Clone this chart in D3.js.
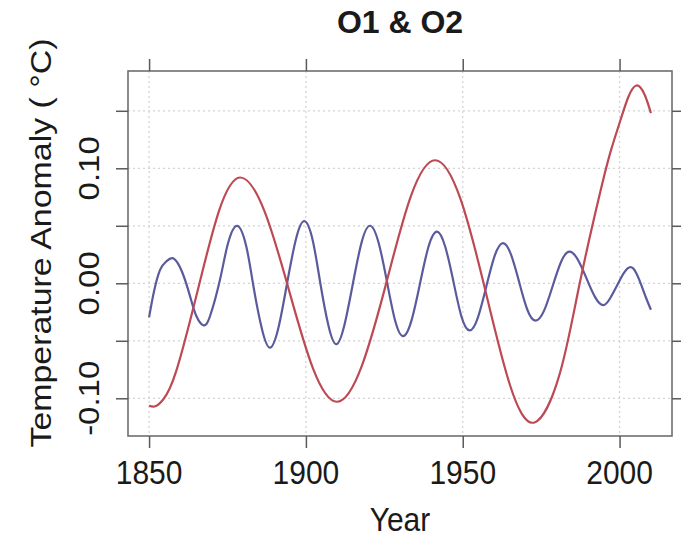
<!DOCTYPE html>
<html>
<head>
<meta charset="utf-8">
<script src="https://cdn.jsdelivr.net/npm/d3@7"></script>
<style>
  body { margin: 0; background: #fff; }
  text { font-family: "Liberation Sans", Arial, sans-serif; fill: #1a1a1a; }
</style>
</head>
<body>
<script>
'use strict';

// O1 (long oscillation, red)
const o1Years = [1850, 1852, 1854.5, 1858.7, 1865.8, 1872.3, 1879, 1886.75, 1894.5, 1902.25, 1910,
  1917.8, 1925.7, 1933.5, 1941.3, 1949.2, 1957.1, 1965, 1972.9, 1981, 1987.3,
  1993.9, 1997.3, 2000.3, 2002.8, 2005.4, 2008, 2010];
const o1Values = [-0.1065, -0.107, -0.101, -0.076, -0.003, 0.063, 0.092, 0.063, -0.005, -0.074, -0.103,
  -0.072, 0.001, 0.076, 0.107, 0.074, -0.005, -0.088, -0.121, -0.078, 0.000,
  0.080, 0.116, 0.142, 0.162, 0.172, 0.164, 0.148];

// O2 (short oscillation, blue)
const o2Years = [1850, 1851.5, 1853.5, 1855.5, 1857.7, 1860.5, 1863.1, 1865, 1867.3, 1869.5, 1872.6, 1875,
  1878, 1881, 1883.3, 1886, 1888.6, 1891.3, 1894, 1896.8, 1899.5, 1902.2, 1904.6, 1907.2,
  1909.7, 1912.3, 1915, 1917.8, 1920.5, 1923.2, 1925.8, 1928.4, 1931, 1933.7, 1936.4, 1939.1,
  1941.8, 1944.4, 1947, 1949.6, 1952.2, 1954.8, 1957.5, 1960.2, 1962.8, 1965.4, 1968, 1970.6,
  1973.2, 1975.9, 1978.6, 1981.4, 1984.1, 1986.8, 1989.5, 1992.2, 1994.8, 1997, 1999.2, 2001.4,
  2003.5, 2005.3, 2007, 2008.5, 2010];
const o2Values = [-0.0296, -0.008, 0.0116, 0.019, 0.0217, 0.010, -0.0116, -0.028, -0.0365, -0.028, 0.003, 0.033,
  0.050, 0.032, -0.003, -0.040, -0.056, -0.038, 0.000, 0.038, 0.054, 0.037, 0.000, -0.037,
  -0.053, -0.036, 0.000, 0.036, 0.050, 0.035, 0.002, -0.032, -0.046, -0.032, 0.000, 0.032,
  0.045, 0.032, 0.002, -0.029, -0.041, -0.030, -0.003, 0.024, 0.035, 0.025, 0.001, -0.023,
  -0.0325, -0.024, -0.003, 0.019, 0.0275, 0.020, 0.004, -0.012, -0.019, -0.013, -0.002, 0.009,
  0.014, 0.009, -0.002, -0.013, -0.023];

const xTicks = [1850, 1900, 1950, 2000];
const yTicks = [-0.10, -0.05, 0.00, 0.05, 0.10, 0.15];
const yLabels = ['-0.10', '0.00', '0.10'];

(function() {
    let svgContainer = "";
    const left = 128, right = 672, top = 71, bottom = 436;
    const tickLen = 12;

    window.onload = function() {
        svgContainer = d3.select('body').append('svg')
            .attr('width', 681)
            .attr('height', 538);

        let xScale = d3.scaleLinear()
            .domain([1843.6, 2016.4])
            .range([left + 1, right - 1]);
        let yScale = d3.scaleLinear()
            .domain([-0.1328, 0.1846])
            .range([bottom, top]);

        drawGrid(xScale, yScale);
        drawLines(xScale, yScale);
        drawAxes(xScale, yScale);
        drawText(xScale, yScale);
    }

    function drawGrid(xScale, yScale) {
        // dotted grid at every tick
        svgContainer.selectAll('.vgrid')
            .data(xTicks)
            .enter()
            .append('line')
            .attr('x1', (d) => xScale(d))
            .attr('x2', (d) => xScale(d))
            .attr('y1', top)
            .attr('y2', bottom)
            .style('stroke', '#d4d4d4')
            .style('stroke-width', 1.3)
            .style('stroke-dasharray', '2,3');

        svgContainer.selectAll('.hgrid')
            .data(yTicks)
            .enter()
            .append('line')
            .attr('x1', left)
            .attr('x2', right)
            .attr('y1', (d) => yScale(d))
            .attr('y2', (d) => yScale(d))
            .style('stroke', '#d4d4d4')
            .style('stroke-width', 1.3)
            .style('stroke-dasharray', '2,3');
    }

    function drawLines(xScale, yScale) {
        let line = d3.line()
            .x((d) => xScale(d[0]))
            .y((d) => yScale(d[1]))
            .curve(d3.curveNatural);

        let o1 = d3.zip(o1Years, o1Values);
        let o2 = d3.zip(o2Years, o2Values);

        svgContainer.append('path')
            .attr('d', line(o2))
            .style('fill', 'none')
            .style('stroke', '#5a5b9c')
            .style('stroke-width', 2.2);

        svgContainer.append('path')
            .attr('d', line(o1))
            .style('fill', 'none')
            .style('stroke', '#bd4955')
            .style('stroke-width', 2.2);
    }

    function drawAxes(xScale, yScale) {
        svgContainer.append('rect')
            .attr('x', left)
            .attr('y', top)
            .attr('width', right - left)
            .attr('height', bottom - top)
            .style('fill', 'none')
            .style('stroke', '#6e6e6e')
            .style('stroke-width', 1.6);

        // ticks on all four sides, labels only bottom and left
        let bottomAxis = d3.axisBottom(xScale).tickValues(xTicks).tickSize(tickLen).tickFormat('');
        let topAxis = d3.axisTop(xScale).tickValues(xTicks).tickSize(tickLen).tickFormat('');
        let leftAxis = d3.axisLeft(yScale).tickValues(yTicks).tickSize(tickLen).tickFormat('');
        let rightAxis = d3.axisRight(yScale).tickValues(yTicks).tickSize(tickLen).tickFormat('');

        svgContainer.append('g').attr('transform', 'translate(0,' + bottom + ')').call(bottomAxis);
        svgContainer.append('g').attr('transform', 'translate(0,' + top + ')').call(topAxis);
        svgContainer.append('g').attr('transform', 'translate(' + left + ',0)').call(leftAxis);
        svgContainer.append('g').attr('transform', 'translate(' + right + ',0)').call(rightAxis);

        svgContainer.selectAll('.domain').remove();
        svgContainer.selectAll('.tick line')
            .style('stroke', '#5a5a5a')
            .style('stroke-width', 1.5);
    }

    function drawText(xScale, yScale) {
        // the source image is stretched a little vertically, so the text is too
        svgContainer.append('text')
            .attr('transform', 'translate(400,33)')
            .style('text-anchor', 'middle')
            .style('font-weight', 'bold')
            .style('font-size', '32px')
            .text('O1 & O2');

        svgContainer.selectAll('.xlab')
            .data(xTicks)
            .enter()
            .append('text')
            .attr('transform', (d) => 'translate(' + xScale(d) + ',484) scale(1,1.1)')
            .style('text-anchor', 'middle')
            .style('font-size', '30px')
            .text((d) => d);

        svgContainer.selectAll('.ylab')
            .data(yLabels)
            .enter()
            .append('text')
            .attr('transform', (d) => 'translate(99,' + yScale(+d) + ') rotate(-90) scale(1.1,1)')
            .style('text-anchor', 'middle')
            .style('font-size', '30px')
            .text((d) => d);

        svgContainer.append('text')
            .attr('transform', 'translate(400,531) scale(1,1.1)')
            .style('text-anchor', 'middle')
            .style('font-size', '30px')
            .text('Year');

        svgContainer.append('text')
            .attr('transform', 'translate(51,243) rotate(-90) scale(1.13,1)')
            .style('text-anchor', 'middle')
            .style('font-size', '30px')
            .text('Temperature Anomaly ( \u00B0C)');
    }
})();
</script>
</body>
</html>
